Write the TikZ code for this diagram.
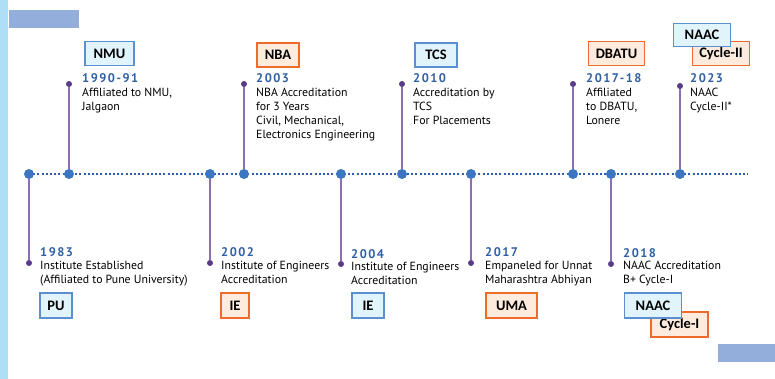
\documentclass[tikz,border=0pt]{standalone}
\usepackage{fontspec}
\setmainfont{PT Sans}
\newfontfamily\tagfont{Carlito}
\usepackage{tikz}
\usetikzlibrary{positioning}

\definecolor{barblue}{RGB}{174,223,247}
\definecolor{blockblue}{RGB}{147,174,218}
\definecolor{lineblue}{RGB}{60,118,194}
\definecolor{dotblue}{RGB}{46,94,172}
\definecolor{stempurple}{RGB}{138,112,176}
\definecolor{tipdark}{RGB}{88,60,136}
\definecolor{yearblue}{RGB}{47,96,164}
\definecolor{tagblue}{RGB}{92,143,207}
\definecolor{tagbluefill}{RGB}{225,243,251}
\definecolor{tagorange}{RGB}{238,107,43}
\definecolor{tagorangefill}{RGB}{253,235,221}

\tikzset{
	mile/.style={circle, fill=lineblue, inner sep=0pt, minimum size=10pt},
	tip/.style={circle, fill=tipdark, inner sep=0pt, minimum size=6pt},
	stem/.style={-, draw=stempurple, line width=1.6pt},
	year/.style={anchor=base west, inner sep=0pt, text=yearblue,
		font=\bfseries\fontsize{12.5}{14}\selectfont\addfontfeature{LetterSpace=12}},
	note/.style={anchor=north west, inner sep=0pt, align=left,
		font=\fontsize{11.8}{14}\selectfont},
	tag/.style={line width=1.6pt, minimum height=24pt, inner sep=0pt,
		font=\tagfont\bfseries\fontsize{14.5}{14.5}\selectfont},
	bluetag/.style={tag, draw=tagblue, fill=tagbluefill},
	orangetag/.style={tag, draw=tagorange, fill=tagorangefill}
}

\begin{document}
\begin{tikzpicture}[x=1pt, y=-1pt]
	\useasboundingbox (0,0) rectangle (775,379);
	% frame pieces
	\fill[barblue] (0,0) rectangle (8,379);
	\fill[blockblue] (9,10) rectangle (79,28);
	\fill[blockblue] (718,344) rectangle (775,362);
	% timeline
	\coordinate (start) at (29,174);
	\coordinate (end) at (748,174);
	\draw[dotblue, line width=2.2pt, dash pattern=on 2pt off 2.2pt] (start) -- (end);
	\node (m1) at (29,174) [mile] {};
	\node (m2) at (69,174) [mile] {};
	\node (m3) at (210,174) [mile] {};
	\node (m4) at (244,174) [mile] {};
	\node (m5) at (341,174) [mile] {};
	\node (m6) at (402,174) [mile] {};
	\node (m7) at (471,174) [mile] {};
	\node (m8) at (573,174) [mile] {};
	\node (m9) at (611,174) [mile] {};
	\node (m10) at (680,174) [mile] {};
	% stems above
	\node (t2) at (69,84) [tip] {}				edge[stem](m2);
	\node (t4) at (244,84) [tip] {}			edge[stem](m4);
	\node (t6) at (402,84) [tip] {}			edge[stem](m6);
	\node (t8) at (573,84) [tip] {}			edge[stem](m8);
	\node (t10) at (680,86) [tip] {}			edge[stem](m10);
	% stems below
	\node (t1) at (29,263) [tip] {}			edge[stem](m1);
	\node (t3) at (210,263) [tip] {}			edge[stem](m3);
	\node (t5) at (341,264) [tip] {}			edge[stem](m5);
	\node (t7) at (471,263) [tip] {}			edge[stem](m7);
	\node (t9) at (611,264) [tip] {}			edge[stem](m9);
	% events above
	\node (nmu) at (109.5,53.5) [bluetag, minimum width=49pt] {NMU};
	\node (y2) at (82,83) [year] {1990-91};
	\node (n2) at (82,88) [note] {Affiliated to NMU,\\Jalgaon};
	\node (nba) at (278,55) [orangetag, minimum width=42pt] {NBA};
	\node (y4) at (256,83) [year] {2003};
	\node (n4) at (256,88) [note] {NBA Accreditation\\for 3 Years\\Civil, Mechanical,\\Electronics Engineering};
	\node (tcs) at (436,55) [bluetag, minimum width=42pt] {TCS};
	\node (y6) at (413,83) [year] {2010};
	\node (n6) at (413,88) [note] {Accreditation by\\TCS\\For Placements};
	\node (dbatu) at (616.5,53.5) [orangetag, minimum width=56pt] {DBATU};
	\node (y8) at (586,83) [year] {2017-18};
	\node (n8) at (586,88) [note] {Affiliated\\to DBATU,\\Lonere};
	\node (cyc2) at (721,53.5) [orangetag, minimum width=57pt] {Cycle-II};
	\node (naac2) at (702,35) [bluetag, minimum width=57pt, minimum height=23pt] {NAAC};
	\node (y10) at (690,83) [year] {2023};
	\node (n10) at (690,88) [note] {NAAC\\Cycle-II*};
	% events below
	\node (y1) at (40,256) [year] {1983};
	\node (n1) at (40,261) [note] {Institute Established\\(Affiliated to Pune University)};
	\node (pu) at (56,305.5) [bluetag, minimum width=32pt, minimum height=25pt] {PU};
	\node (y3) at (221,256) [year] {2002};
	\node (n3) at (221,261) [note] {Institute of Engineers\\Accreditation};
	\node (ie1) at (235,305.5) [orangetag, minimum width=28pt, minimum height=25pt] {IE};
	\node (y5) at (351,258) [year] {2004};
	\node (n5) at (351,262) [note] {Institute of Engineers\\Accreditation};
	\node (ie2) at (368,305.5) [bluetag, minimum width=32pt, minimum height=25pt] {IE};
	\node (y7) at (485,256) [year] {2017};
	\node (n7) at (485,261) [note] {Empaneled for Unnat\\Maharashtra Abhiyan};
	\node (uma) at (511.5,305.5) [orangetag, minimum width=51pt, minimum height=25pt] {UMA};
	\node (y9) at (623,257) [year] {2018};
	\node (n9) at (623,261) [note] {NAAC Accreditation\\B+ Cycle-I};
	\node (cyc1) at (679.5,324.5) [orangetag, minimum width=57pt, minimum height=25pt] {Cycle-I};
	\node (naac1) at (653,305.5) [bluetag, minimum width=57pt, minimum height=25pt] {NAAC};
\end{tikzpicture}
\end{document}
